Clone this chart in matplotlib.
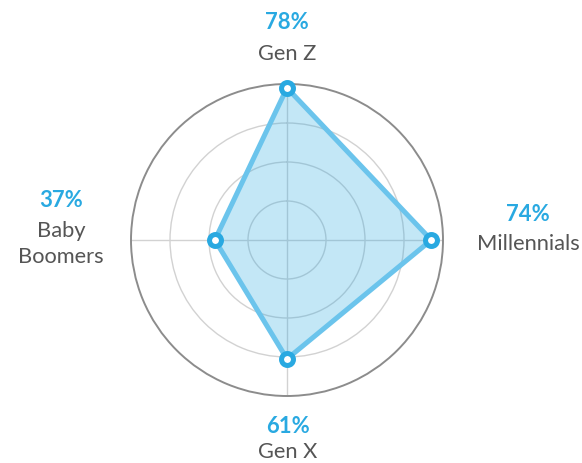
import numpy as np
import matplotlib
matplotlib.use("Agg")
import matplotlib.pyplot as plt

categories = ["Gen Z", "Millennials", "Gen X", "Baby\nBoomers"]
values = [78, 74, 61, 37]
r_max = 80
grid_levels = [20, 40, 60]

W, H = 582, 464
fig = plt.figure(figsize=(W / 100, H / 100), dpi=100)

cx, cy, R = 287, 241, 156
ax = fig.add_axes([(cx - R) / W, (H - cy - R) / H, 2 * R / W, 2 * R / H], projection="polar")
ax.set_theta_zero_location("N")
ax.set_theta_direction(-1)
ax.set_ylim(0, r_max)

angles = np.linspace(0, 2 * np.pi, len(categories), endpoint=False)
ax.set_xticks(angles)
ax.set_xticklabels([])
ax.set_yticks(grid_levels)
ax.set_yticklabels([])
ax.grid(True, color="#d2d2d2", linewidth=1.0)
ax.spines["polar"].set_color("#8c8c8c")
ax.spines["polar"].set_linewidth(1.4)
ax.set_axisbelow(True)
ax.patch.set_facecolor("white")

a_closed = np.concatenate([angles, angles[:1]])
v_closed = np.concatenate([values, values[:1]])
ax.fill(a_closed, v_closed, color="#29a9e1", alpha=0.28, zorder=2, linewidth=0)
ax.plot(a_closed, v_closed, color="#6bc4ec", linewidth=3.6, zorder=3, solid_joinstyle="miter")
ax.plot(angles, values, linestyle="none", marker="o", markersize=8.6,
        markerfacecolor="white", markeredgecolor="#29a9e1", markeredgewidth=3.6, zorder=4,
        clip_on=False)

blue = "#29a9e1"
gray = "#555555"
FONT = "Lato"

# measure font widths to size text like the reference
renderer = fig.canvas.get_renderer()
def text_width(s, size, weight):
    t = fig.text(0, 0, s, fontsize=size, fontweight=weight, family=FONT)
    w = t.get_window_extent(renderer).width
    t.remove()
    return w

name_size = 13 * 103 / text_width("Millennials", 13, "normal")
pct_size = 13 * 44 / text_width("78%", 13, "bold")

# label layout (pixels): x center, pct baseline, first name-line baseline
label_pos = [(287, 29, 60), (528, 221, 250), (288, 433, 458), (61, 207, 237)]
line_gap = 26
for (x, yp, yn), cat, v in zip(label_pos, categories, values):
    fig.text(x / W, 1 - yp / H, f"{v}%", ha="center", va="baseline",
             fontsize=pct_size, fontweight="bold", color=blue, family=FONT)
    for i, line in enumerate(cat.split("\n")):
        fig.text(x / W, 1 - (yn + i * line_gap) / H, line, ha="center", va="baseline",
                 fontsize=name_size, color=gray, family=FONT)

fig.savefig("out.png", dpi=100)
